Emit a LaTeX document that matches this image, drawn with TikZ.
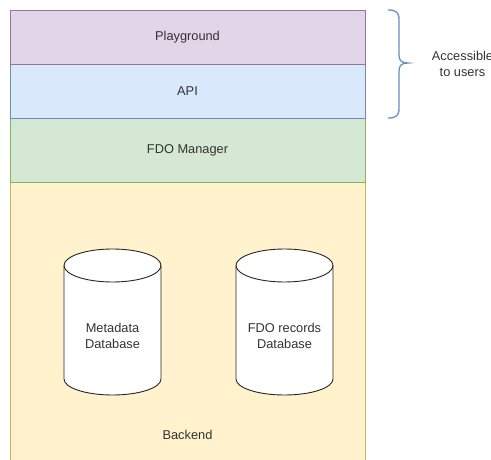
\documentclass[tikz,border=0pt]{standalone}
\usepackage{fontspec}
\setmainfont{Liberation Sans}
\begin{document}
\begin{tikzpicture}[x=1pt,y=-1pt,
  layer/.style={draw=#1, line width=0.8pt},
  lbl/.style={font=\fontsize{12.8}{16}\selectfont, text=black!80, align=center},
  db/.style={draw=black!85, fill=white, line width=0.9pt}]
\definecolor{purpF}{HTML}{E1D5E7}\definecolor{purpS}{HTML}{9673A6}
\definecolor{blueF}{HTML}{DAE8FC}\definecolor{blueS}{HTML}{6C8EBF}
\definecolor{greenF}{HTML}{D5E8D4}\definecolor{greenS}{HTML}{82B366}
\definecolor{yelF}{HTML}{FFF2CC}\definecolor{yelS}{HTML}{D6B656}
\useasboundingbox (0,0) rectangle (491,460);
\clip (0,0) rectangle (491,460);
% layers
\filldraw[layer=yelS, fill=yelF] (10,182) rectangle (365,475);
\filldraw[layer=greenS, fill=greenF] (10,118) rectangle (365,182);
\filldraw[layer=blueS, fill=blueF] (10,64) rectangle (365,118);
\filldraw[layer=purpS, fill=purpF] (10,10) rectangle (365,64);
\node[lbl] (play) at (187.5,37) {Playground};
\node[lbl] (api) at (187.5,91) {API};
\node[lbl] (fdo) at (187.5,150) {FDO Manager};
\node[lbl] (backend) at (187.5,435) {Backend};
% cylinders
\foreach \cx in {112.5,284.5}{
  \filldraw[db] (\cx-48.5,265.5) -- (\cx-48.5,379) arc[start angle=180,end angle=0,x radius=48.5,y radius=16] -- (\cx+48.5,265.5) arc[start angle=0,end angle=-180,x radius=48.5,y radius=16.5] -- cycle;
  \draw[db, fill=none] (\cx-48.5,265.5) arc[start angle=180,end angle=360,x radius=48.5,y radius=-16.5];
}
\node[lbl] (meta) at (112.5,336) {Metadata\\Database};
\node[lbl] (recs) at (284.5,336) {FDO records\\Database};
% brace
\draw[blueS, line width=1.3pt] (388,10) .. controls (396,10) and (399,12) .. (399,20)
  -- (399,55) .. controls (399,61) and (402,63) .. (408,63)
  .. controls (402,63) and (399,65) .. (399,71)
  -- (399,108) .. controls (399,116) and (396,118) .. (388,118);
\node[lbl] (acc) at (462.5,64) {Accessible\\to users};
\end{tikzpicture}
\end{document}
